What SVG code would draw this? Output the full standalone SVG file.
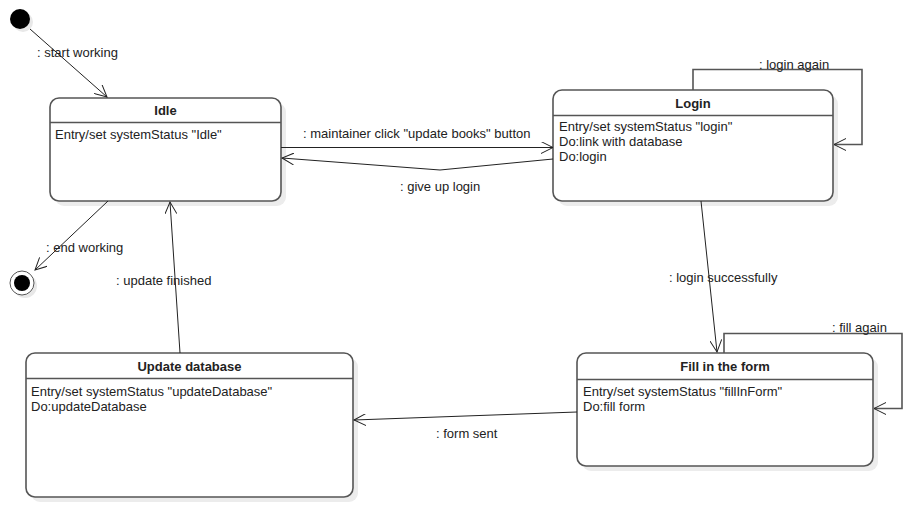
<svg xmlns="http://www.w3.org/2000/svg" width="913" height="507" viewBox="0 0 913 507">
  <defs>
    <style>
      .state { fill: #ffffff; stroke: #555555; stroke-width: 1.6; }
      .shadow { fill: #ececec; }
      .sep { stroke: #555555; stroke-width: 1.6; }
      .title { font-family: "Liberation Sans", Arial, sans-serif; font-size: 13px; font-weight: bold; fill: #222222; text-anchor: middle; }
      .body { font-family: "Liberation Sans", Arial, sans-serif; font-size: 13px; fill: #222222; }
      .lbl { font-family: "Liberation Sans", Arial, sans-serif; font-size: 13px; fill: #222222; }
      .edge { fill: none; stroke: #222222; stroke-width: 1; }
      .loop { fill: none; stroke: #555555; stroke-width: 1.6; }
    </style>
    <marker id="open" markerWidth="14" markerHeight="12" refX="12" refY="6" orient="auto" markerUnits="userSpaceOnUse">
      <path d="M0,0 L12,6 L0,12" fill="none" stroke="#222222" stroke-width="1"/>
    </marker>
  </defs>

  <rect width="913" height="507" fill="#ffffff"/>

  <!-- initial pseudo-state -->
  <g id="initial">
    <circle cx="23" cy="22" r="10" fill="#e8e8e8"/>
    <circle cx="20" cy="19" r="10" fill="#000000"/>
  </g>

  <!-- final state -->
  <g id="final">
    <circle cx="25" cy="286" r="12" fill="#e8e8e8"/>
    <circle cx="22" cy="283" r="12" fill="#ffffff" stroke="#555555" stroke-width="1"/>
    <circle cx="22" cy="283" r="8" fill="#000000"/>
  </g>

  <g id="idle">
    <rect class="shadow" x="55" y="103" width="231" height="103" rx="9"/>
    <rect class="state" x="50" y="98" width="231" height="103" rx="9"/>
    <line class="sep" x1="50" y1="122.5" x2="281" y2="122.5"/>
    <text class="title" x="165.5" y="115">Idle</text>
    <text class="body" x="55" y="139">Entry/set systemStatus "Idle"</text>
  </g>

  <g id="login">
    <rect class="shadow" x="558" y="95" width="280" height="111" rx="9"/>
    <rect class="state" x="553" y="90" width="280" height="111" rx="9"/>
    <line class="sep" x1="553" y1="115.5" x2="833" y2="115.5"/>
    <text class="title" x="693" y="108">Login</text>
    <text class="body" x="559" y="131">Entry/set systemStatus "login"</text>
    <text class="body" x="559" y="146">Do:link with database</text>
    <text class="body" x="559" y="161">Do:login</text>
  </g>

  <g id="fill-form">
    <rect class="shadow" x="582" y="358" width="296" height="113" rx="9"/>
    <rect class="state" x="577" y="353" width="296" height="113" rx="9"/>
    <line class="sep" x1="577" y1="379.5" x2="873" y2="379.5"/>
    <text class="title" x="725" y="371">Fill in the form</text>
    <text class="body" x="583" y="396">Entry/set systemStatus "fillInForm"</text>
    <text class="body" x="583" y="411">Do:fill form</text>
  </g>

  <g id="update-database">
    <rect class="shadow" x="31" y="358" width="327" height="144" rx="9"/>
    <rect class="state" x="26" y="353" width="327" height="144" rx="9"/>
    <line class="sep" x1="26" y1="378.5" x2="353" y2="378.5"/>
    <text class="title" x="189.5" y="371">Update database</text>
    <text class="body" x="31" y="396">Entry/set systemStatus "updateDatabase"</text>
    <text class="body" x="31" y="411">Do:updateDatabase</text>
  </g>

  <g id="connectors">
    <line class="edge" x1="30" y1="29" x2="107" y2="97" marker-end="url(#open)"/>
    <text class="lbl" x="37" y="57">: start working</text>

    <line class="edge" x1="108" y1="201" x2="35" y2="270" marker-end="url(#open)"/>
    <text class="lbl" x="46" y="252">: end working</text>

    <line class="edge" x1="281" y1="147.5" x2="553" y2="147.5" marker-end="url(#open)"/>
    <text class="lbl" x="303" y="138">: maintainer click "update books" button</text>

    <polyline class="edge" points="553,159 440,170 282,158" marker-end="url(#open)"/>
    <text class="lbl" x="400" y="191">: give up login</text>

    <polyline class="loop" points="693,90 693,69.5 862,69.5 862,144.5 834,144.5"/>
    <path d="M846,138.5 L834,144.5 L846,150.5" fill="none" stroke="#222222" stroke-width="1"/>
    <text class="lbl" x="759" y="69">: login again</text>

    <line class="edge" x1="701" y1="201" x2="717" y2="352" marker-end="url(#open)"/>
    <text class="lbl" x="669" y="282">: login successfully</text>

    <polyline class="loop" points="724,353 724,333.5 902,333.5 902,408.5 874,408.5"/>
    <path d="M886,402.5 L874,408.5 L886,414.5" fill="none" stroke="#222222" stroke-width="1"/>
    <text class="lbl" x="832" y="332">: fill again</text>

    <line class="edge" x1="577" y1="412" x2="354" y2="420" marker-end="url(#open)"/>
    <text class="lbl" x="436" y="438">: form sent</text>

    <line class="edge" x1="180" y1="353" x2="170" y2="202" marker-end="url(#open)"/>
    <text class="lbl" x="116" y="285">: update finished</text>
  </g>
</svg>
